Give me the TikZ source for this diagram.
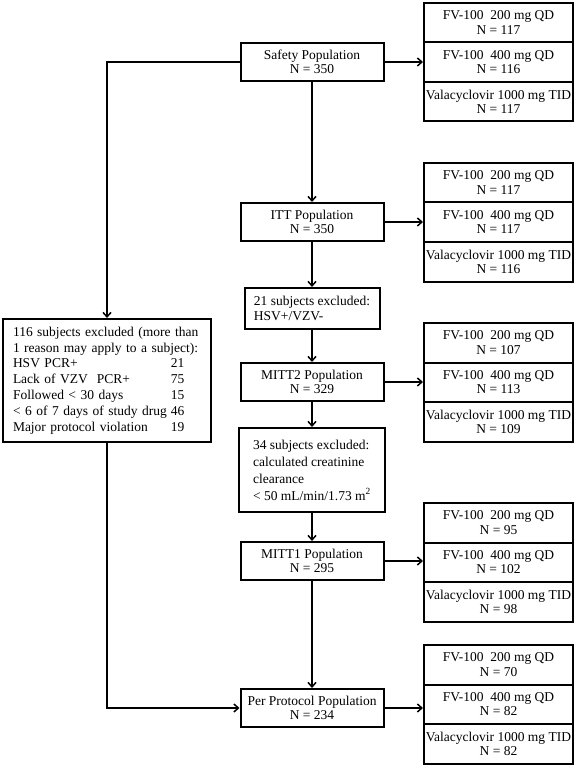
\documentclass[tikz,border=0pt]{standalone}
\usepackage{fontspec}
\setmainfont{Liberation Serif}
\usetikzlibrary{arrows.meta}
\begin{document}
\begin{tikzpicture}[x=1pt,y=-1pt,
  every node/.style={font=\fontsize{13.5}{14.5}\selectfont},
  mid/.style={draw, line width=2pt, minimum width=143pt, minimum height=38pt, align=center, inner sep=0pt},
  arm/.style={draw, line width=2pt, minimum width=149pt, minimum height=39.5pt, align=center, inner sep=0pt},
  conn/.style={line width=1.5pt, -{Straight Barb[length=4.5pt,width=8pt]}},
]
\fill[white] (0,0) rectangle (577,767);
\useasboundingbox (0,0) rectangle (577,767);

% middle column
\node[mid] (safety) at (312,62) {Safety Population\\N = 350};
\node[mid] (itt) at (312,222) {ITT Population\\N = 350};
\node[mid, minimum width=135pt, minimum height=41pt, align=left] (ex21) at (312,308.5) {21 subjects excluded:\\HSV+/VZV-};
\node[mid] (mitt2) at (312,382) {MITT2 Population\\N = 329};
\node[mid, minimum width=146pt, minimum height=84pt, align=left, font=\fontsize{13.5}{17}\selectfont] (ex34) at (312,470) {34 subjects excluded:\\calculated creatinine\\clearance\\< 50 mL/min/1.73 m\textsuperscript{2}};
\node[mid] (mitt1) at (312,561) {MITT1 Population\\N = 295};
\node[mid] (pp) at (312,708) {Per Protocol Population\\N = 234};

% left box
\node[draw, line width=2pt, minimum height=123pt, text width=188pt, inner xsep=10pt, inner ysep=0pt, align=left, font=\fontsize{13.5}{15.8}\selectfont] (excl) at (107,380.5) {\begin{tabular}{@{}l@{\hspace{4pt}}l@{}}
\multicolumn{2}{@{}l@{}}{116 subjects excluded (more than}\\
\multicolumn{2}{@{}l@{}}{1 reason may apply to a subject):}\\
HSV PCR+ & 21\\
Lack of VZV\ \ PCR+ & 75\\
Followed < 30 days & 15\\
< 6 of 7 days of study drug & 46\\
Major protocol violation & 19
\end{tabular}};

% right groups
\foreach \g/\t/\a/\b/\c in {1/3/117/116/117, 2/163/117/117/116, 3/323/107/113/109, 4/503/95/102/98, 5/645/70/82/82}{
  \node[arm] (g\g1) at (498.5,\t+19.75) {FV-100\ \ 200 mg QD\\N = \a};
  \node[arm] (g\g2) at (498.5,\t+59.25) {FV-100\ \ 400 mg QD\\N = \b};
  \node[arm] (g\g3) at (498.5,\t+98.75) {Valacyclovir 1000 mg TID\\N = \c};
}

% connectors
\draw[conn] (safety) -- (itt);
\draw[conn] (itt) -- (ex21);
\draw[conn] (ex21) -- (mitt2);
\draw[conn] (mitt2) -- (ex34);
\draw[conn] (ex34) -- (mitt1);
\draw[conn] (mitt1) -- (pp);
\draw[conn] (safety.west) -| (excl.north);
\draw[conn] (excl.south) |- (pp.west);
\draw[conn] (safety.east) -- (safety.east -| g12.west);
\draw[conn] (itt.east) -- (itt.east -| g22.west);
\draw[conn] (mitt2.east) -- (mitt2.east -| g32.west);
\draw[conn] (mitt1.east) -- (mitt1.east -| g42.west);
\draw[conn] (pp.east) -- (pp.east -| g52.west);
\end{tikzpicture}
\end{document}
